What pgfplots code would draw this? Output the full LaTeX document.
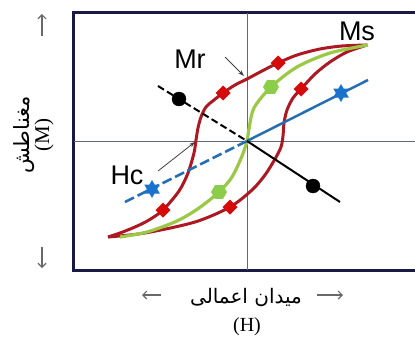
\documentclass[border=0pt]{standalone}
\usepackage{pgfplots}
\pgfplotsset{compat=1.18}
\usetikzlibrary{arrows.meta}
\usepackage{fontspec}
\setmainfont{Liberation Serif}
\newfontfamily\sansf{Liberation Sans}
\newfontfamily\arabicfont[Script=Arabic]{DejaVu Sans}
\TeXXeTstate=1
\definecolor{framec}{RGB}{25,25,70}
\definecolor{centerc}{RGB}{95,105,125}
\definecolor{redc}{RGB}{172,25,35}
\definecolor{greenc}{RGB}{155,200,70}
\definecolor{bluec}{RGB}{35,110,180}
\definecolor{redm}{RGB}{215,10,10}
\definecolor{greenm}{RGB}{140,205,75}
\definecolor{bluem}{RGB}{25,115,205}
\definecolor{arrowc}{RGB}{105,105,105}
\pgfdeclareplotmark{sqdiamond}{%
  \pgfpathmoveto{\pgfqpoint{0pt}{\pgfplotmarksize}}%
  \pgfpathlineto{\pgfqpoint{\pgfplotmarksize}{0pt}}%
  \pgfpathlineto{\pgfqpoint{0pt}{-\pgfplotmarksize}}%
  \pgfpathlineto{\pgfqpoint{-\pgfplotmarksize}{0pt}}%
  \pgfpathclose\pgfusepathqfill}
\pgfdeclareplotmark{hexagon*}{%
  \pgfpathmoveto{\pgfpointpolar{0}{\pgfplotmarksize}}%
  \pgfpathlineto{\pgfpointpolar{60}{\pgfplotmarksize}}%
  \pgfpathlineto{\pgfpointpolar{120}{\pgfplotmarksize}}%
  \pgfpathlineto{\pgfpointpolar{180}{\pgfplotmarksize}}%
  \pgfpathlineto{\pgfpointpolar{240}{\pgfplotmarksize}}%
  \pgfpathlineto{\pgfpointpolar{300}{\pgfplotmarksize}}%
  \pgfpathclose\pgfusepathqfill}
\pgfdeclareplotmark{sixstar}{%
  \pgfpathmoveto{\pgfpointpolar{90}{\pgfplotmarksize}}%
  \pgfpathlineto{\pgfpointpolar{210}{\pgfplotmarksize}}%
  \pgfpathlineto{\pgfpointpolar{330}{\pgfplotmarksize}}%
  \pgfpathclose
  \pgfpathmoveto{\pgfpointpolar{270}{\pgfplotmarksize}}%
  \pgfpathlineto{\pgfpointpolar{30}{\pgfplotmarksize}}%
  \pgfpathlineto{\pgfpointpolar{150}{\pgfplotmarksize}}%
  \pgfpathclose\pgfusepathqfill}
\begin{document}
\begin{tikzpicture}
\begin{axis}[at={(74pt,68pt)}, anchor=south west, scale only axis,
  width=346pt, height=257pt,
  xmin=-173, xmax=173, ymin=-129, ymax=128,
  ticks=none, clip=false,
  axis line style={draw=framec, line width=3pt}]
% centre lines
\addplot[centerc, line width=1pt] coordinates {(0,-129) (0,128)};
\addplot[centerc, line width=1pt] coordinates {(-173,0) (173,0)};
% red loop: descending branch
\addplot[redc, line width=3pt, smooth, tension=0.5] coordinates {
(120,96) (95,95) (73,92) (50,86) (31,78) (15,70) (0,62) (-12,56) (-24,48)
(-33,41) (-41,34) (-46,24) (-49,13) (-51,1) (-53,-12) (-59,-32) (-68,-50)
(-84,-69) (-98,-79) (-112,-86) (-127,-92) (-139,-96)};
% red loop: ascending branch
\addplot[redc, line width=3pt, smooth, tension=0.5] coordinates {
(-139,-96) (-102,-92) (-52,-81) (-17,-66) (5,-49) (18,-34) (28,-18) (34,-6)
(36,5) (37,18) (40,31) (46,43) (54,52) (68,67) (83,79) (100,89) (120,96)};
% green virgin curve
\addplot[greenc, line width=3.2pt, smooth, tension=0.5] coordinates {
(-127,-96) (-100,-91) (-70,-80) (-48,-67) (-28,-51) (-15,-36) (-5,-15) (0,0)
(2,12) (7,33) (24,54) (50,74) (83,88) (121,96)};
% blue line
\addplot[bluec, line width=2.5pt, dash pattern=on 10pt off 4pt] coordinates {(-122,-61) (0,0)};
\addplot[bluec, line width=2.5pt] coordinates {(0,0) (121,61)};
% black line
\addplot[black, line width=2pt, dash pattern=on 7pt off 3.5pt] coordinates {(-89,55) (0,0)};
\addplot[black, line width=2pt] coordinates {(0,0) (93,-61)};
% markers
\addplot[only marks, mark=sqdiamond, mark size=7.5pt, redm] coordinates {
(31,78) (-24,48) (-84,-69) (-17,-66) (54,52)};
\addplot[only marks, mark=hexagon*, mark size=8pt, greenm] coordinates {
(24,54) (-28,-51)};
\addplot[only marks, mark=sixstar, mark size=9pt, bluem] coordinates {
(-95,-48) (94,48)};
\addplot[only marks, mark=*, mark size=7pt, black] coordinates {
(-68,42) (66,-45)};
% annotations
\node[font=\sansf\fontsize{27}{27}\selectfont] at (axis cs:-57,82) {Mr};
\node[font=\sansf\fontsize{27}{27}\selectfont] at (axis cs:110,110) {Ms};
\node[font=\sansf\fontsize{27}{27}\selectfont] at (axis cs:-120,-34) {Hc};
\draw[black!75, line width=0.8pt, -{Stealth[length=6pt,width=4pt]}] (axis cs:-22,84) -- (axis cs:-3,65);
\draw[black!75, line width=0.8pt, -{Stealth[length=6pt,width=4pt]}] (axis cs:-89,-30) -- (axis cs:-52,-1);
% x label
\node[font=\arabicfont\fontsize{20}{22}\selectfont] at (axis cs:-1,-157) {\beginR میدان اعمالی\endR};
\node[font=\fontsize{20}{21}\selectfont] at (axis cs:0,-186) {(H)};
\draw[arrowc, line width=1.2pt, -{Straight Barb[length=4pt,width=8pt]}] (axis cs:-86,-154) -- (axis cs:-105,-154);
\draw[arrowc, line width=1.2pt, -{Straight Barb[length=4pt,width=8pt]}] (axis cs:70,-154) -- (axis cs:96,-154);
% y label
\node[rotate=90, font=\arabicfont\fontsize{21}{22}\selectfont] at (axis cs:-223,6) {\beginR مغناطش\endR};
\node[rotate=90, font=\fontsize{21}{22}\selectfont] at (axis cs:-203,6) {(M)};
\draw[arrowc, line width=1.2pt, -{Straight Barb[length=4pt,width=8pt]}] (axis cs:-205,105) -- (axis cs:-205,127);
\draw[arrowc, line width=1.2pt, -{Straight Barb[length=4pt,width=8pt]}] (axis cs:-205,-106) -- (axis cs:-205,-127);
\end{axis}
\pgfresetboundingbox
\useasboundingbox (0,0) rectangle (415pt,338pt);
\end{tikzpicture}
\end{document}
